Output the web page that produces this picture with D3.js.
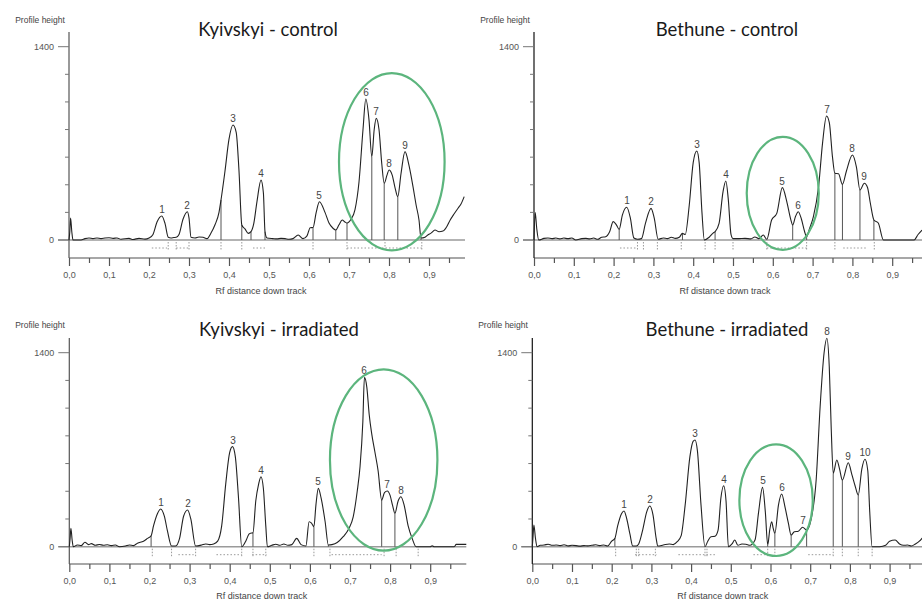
<!DOCTYPE html>
<html>
<head>
<meta charset="utf-8">
<script src="https://cdn.jsdelivr.net/npm/d3@7/dist/d3.min.js"></script>
<style>
  body { margin: 0; background: #fff; }
  svg { display: block; }
  .peaks { opacity: 0.99; }
</style>
</head>
<body>
<svg id="chart" width="922" height="601"></svg>
<script>
// ---- tick labels ----
var yTicks = [0, 200, 400, 600, 800, 1000, 1200, 1400];
var yTickLabels = ["0", "", "", "", "", "", "", "1400"];
var xMajor = [0, 0.1, 0.2, 0.3, 0.4, 0.5, 0.6, 0.7, 0.8, 0.9];
var xTickLabels = ["0,0", "0,1", "0,2", "0,3", "0,4", "0,5", "0,6", "0,7", "0,8", "0,9"];
var xMinor = [0.05, 0.15, 0.25, 0.35, 0.45, 0.55, 0.65, 0.75, 0.85, 0.95];

var titles = ["Kyivskyi - control", "Bethune - control", "Kyivskyi - irradiated", "Bethune - irradiated"];

// ---- profiles: [Rf, profile height] ----
var kyivControl = [[0,0],[0.002,60],[0.004,159],[0.007,60],[0.01,0],[0.03,0],[0.04,10],[0.05,15],[0.06,10],[0.07,15],[0.08,10],[0.09,14],[0.1,16],[0.11,12],[0.12,15],[0.13,5],[0.15,12],[0.16,4],[0.175,12],[0.19,6],[0.2,14],[0.21,40],[0.22,130],[0.232,174],[0.24,120],[0.248,20],[0.255,15],[0.262,18],[0.268,20],[0.275,40],[0.285,150],[0.296,205],[0.3,160],[0.305,20],[0.315,15],[0.325,22],[0.335,20],[0.345,10],[0.355,50],[0.365,110],[0.375,200],[0.38,290],[0.39,500],[0.4,730],[0.41,833],[0.418,780],[0.425,500],[0.432,109],[0.44,80],[0.448,48],[0.455,60],[0.462,120],[0.47,280],[0.48,434],[0.486,340],[0.49,60],[0.495,15],[0.51,10],[0.52,8],[0.53,12],[0.54,10],[0.55,5],[0.56,10],[0.573,36],[0.585,10],[0.595,30],[0.603,89],[0.61,90],[0.618,200],[0.626,277],[0.64,200],[0.65,123],[0.66,85],[0.667,72],[0.675,110],[0.683,145],[0.69,130],[0.695,123],[0.705,150],[0.715,220],[0.725,420],[0.735,800],[0.742,1021],[0.75,870],[0.757,603],[0.763,800],[0.768,881],[0.775,800],[0.782,550],[0.788,410],[0.795,470],[0.8,507],[0.808,470],[0.815,380],[0.822,314],[0.83,480],[0.84,640],[0.85,540],[0.86,386],[0.868,250],[0.875,145],[0.88,14],[0.89,20],[0.897,36],[0.905,50],[0.915,72],[0.925,60],[0.935,65],[0.945,100],[0.953,145],[0.963,190],[0.973,232],[0.98,260],[0.988,314]];

var bethuneControl = [[0,0],[0.003,198],[0.007,80],[0.012,0],[0.025,12],[0.035,15],[0.045,10],[0.055,14],[0.065,8],[0.075,14],[0.085,10],[0.095,14],[0.105,0],[0.12,10],[0.13,12],[0.14,8],[0.15,14],[0.16,5],[0.17,20],[0.18,24],[0.19,60],[0.199,133],[0.207,110],[0.214,77],[0.222,180],[0.233,237],[0.242,160],[0.251,14],[0.26,5],[0.27,10],[0.28,120],[0.294,229],[0.302,160],[0.312,5],[0.325,15],[0.335,10],[0.345,20],[0.355,12],[0.365,20],[0.373,48],[0.38,40],[0.39,250],[0.4,560],[0.409,645],[0.415,560],[0.422,200],[0.428,0],[0.44,20],[0.45,50],[0.455,60],[0.465,120],[0.475,350],[0.482,427],[0.488,300],[0.495,40],[0.5,10],[0.515,10],[0.53,12],[0.545,8],[0.555,22],[0.565,10],[0.576,36],[0.585,5],[0.597,145],[0.61,193],[0.624,379],[0.635,280],[0.645,150],[0.65,109],[0.657,170],[0.664,205],[0.672,150],[0.68,60],[0.685,24],[0.692,80],[0.702,169],[0.715,386],[0.725,702],[0.735,898],[0.742,850],[0.75,600],[0.756,483],[0.765,480],[0.775,403],[0.785,500],[0.8,616],[0.81,530],[0.819,362],[0.83,411],[0.838,380],[0.845,268],[0.854,145],[0.865,123],[0.878,0],[0.955,0],[0.965,40],[0.975,72]];

var kyivIrradiated = [[0,0],[0.002,60],[0.004,133],[0.007,50],[0.01,0],[0.02,12],[0.03,8],[0.039,32],[0.048,15],[0.055,22],[0.065,10],[0.075,16],[0.085,10],[0.095,14],[0.105,8],[0.115,12],[0.125,0],[0.14,5],[0.15,12],[0.16,8],[0.17,25],[0.185,40],[0.195,60],[0.204,79],[0.21,150],[0.22,240],[0.228,272],[0.237,220],[0.245,110],[0.255,5],[0.265,5],[0.275,60],[0.285,220],[0.295,265],[0.303,200],[0.315,5],[0.33,12],[0.34,20],[0.35,15],[0.36,20],[0.37,40],[0.38,150],[0.39,450],[0.4,680],[0.407,722],[0.414,650],[0.422,350],[0.43,0],[0.44,40],[0.448,90],[0.452,97],[0.458,100],[0.465,330],[0.472,450],[0.478,505],[0.484,420],[0.49,150],[0.494,0],[0.505,10],[0.515,18],[0.525,10],[0.535,20],[0.545,10],[0.555,15],[0.567,60],[0.578,15],[0.59,5],[0.598,180],[0.604,170],[0.61,144],[0.615,300],[0.621,421],[0.628,350],[0.638,180],[0.646,12],[0.655,15],[0.668,30],[0.683,72],[0.697,130],[0.708,216],[0.718,400],[0.725,577],[0.732,900],[0.736,1222],[0.742,1150],[0.748,950],[0.754,818],[0.762,685],[0.77,550],[0.779,337],[0.786,390],[0.793,402],[0.8,370],[0.806,300],[0.812,241],[0.82,330],[0.827,361],[0.835,300],[0.845,150],[0.855,60],[0.865,0],[0.9,0],[0.905,6],[0.91,0],[0.96,0],[0.965,17],[0.99,17]];

var bethuneIrradiated = [[0,0],[0.002,80],[0.004,157],[0.008,60],[0.012,0],[0.02,10],[0.03,12],[0.04,18],[0.05,10],[0.06,12],[0.07,8],[0.08,14],[0.09,6],[0.1,10],[0.11,8],[0.12,4],[0.13,8],[0.14,6],[0.15,10],[0.16,14],[0.17,8],[0.18,12],[0.19,5],[0.2,40],[0.208,60],[0.215,150],[0.225,240],[0.231,258],[0.238,200],[0.246,90],[0.253,5],[0.262,5],[0.268,20],[0.278,120],[0.288,250],[0.296,294],[0.304,230],[0.312,60],[0.316,5],[0.33,12],[0.345,20],[0.355,15],[0.365,36],[0.375,80],[0.385,300],[0.397,650],[0.405,760],[0.41,770],[0.416,690],[0.425,300],[0.435,0],[0.442,40],[0.45,72],[0.46,75],[0.468,120],[0.475,350],[0.482,440],[0.488,330],[0.494,0],[0.503,20],[0.51,48],[0.518,10],[0.528,20],[0.538,18],[0.548,10],[0.561,48],[0.57,250],[0.58,428],[0.587,250],[0.593,12],[0.598,120],[0.603,180],[0.607,130],[0.611,96],[0.62,300],[0.628,380],[0.637,280],[0.645,170],[0.652,84],[0.66,108],[0.67,112],[0.681,140],[0.691,120],[0.702,193],[0.715,481],[0.725,1010],[0.735,1400],[0.742,1504],[0.748,1300],[0.753,850],[0.758,530],[0.767,626],[0.774,560],[0.781,481],[0.796,606],[0.805,520],[0.813,440],[0.821,373],[0.83,560],[0.838,631],[0.845,550],[0.85,250],[0.856,0],[0.875,0],[0.89,10],[0.9,40],[0.914,48],[0.925,20],[0.935,10],[0.945,12],[0.955,5],[0.965,20],[0.975,40],[0.985,72]];

// ---- numbered peaks: [number, Rf, height] ----
var kyivControlPeaks = [[1,0.232,174],[2,0.296,205],[3,0.41,833],[4,0.48,434],[5,0.626,277],[6,0.742,1021],[7,0.768,881],[8,0.8,507],[9,0.84,640]];
var bethuneControlPeaks = [[1,0.233,237],[2,0.294,229],[3,0.409,645],[4,0.482,427],[5,0.624,379],[6,0.664,205],[7,0.735,898],[8,0.8,616],[9,0.83,411]];
var kyivIrradiatedPeaks = [[1,0.228,272],[2,0.295,265],[3,0.407,722],[4,0.478,505],[5,0.621,421],[6,0.736,1222],[7,0.793,402],[8,0.827,361]];
var bethuneIrradiatedPeaks = [[1,0.231,258],[2,0.296,294],[3,0.41,770],[4,0.482,440],[5,0.58,428],[6,0.628,380],[7,0.681,140],[8,0.742,1504],[9,0.796,606],[10,0.838,631]];

// ---- peak boundary drop lines (Rf) ----
var kyivControlDrops = [0.38, 0.432, 0.455, 0.49, 0.61, 0.667, 0.695, 0.757, 0.788, 0.822, 0.88];
var bethuneControlDrops = [0.214, 0.373, 0.455, 0.65, 0.685, 0.756, 0.775, 0.819, 0.854];
var kyivIrradiatedDrops = [0.204, 0.458, 0.61, 0.646, 0.779, 0.812];
var bethuneIrradiatedDrops = [0.208, 0.593, 0.611, 0.652, 0.691, 0.758, 0.781, 0.821];

// ---- dotted lane extents under the baseline: [from, to] ----
var kyivControlBands = [[0.207,0.245],[0.268,0.3],[0.46,0.49],[0.695,0.882]];
var bethuneControlBands = [[0.216,0.258],[0.585,0.685],[0.777,0.836]];
var kyivIrradiatedBands = [[0.272,0.31],[0.367,0.43],[0.456,0.492],[0.654,0.779]];
var bethuneIrradiatedBands = [[0.259,0.313],[0.368,0.465],[0.557,0.59],[0.695,0.758]];

var kyivControlMarks = [0.248, 0.268, 0.3, 0.38, 0.432, 0.61, 0.695, 0.79, 0.882];
var bethuneControlMarks = [0.26, 0.275, 0.31, 0.37, 0.43, 0.455, 0.5, 0.585, 0.685, 0.756, 0.855];
var kyivIrradiatedMarks = [0.207, 0.255, 0.315, 0.43, 0.458, 0.49, 0.61, 0.65, 0.785, 0.815, 0.87];
var bethuneIrradiatedMarks = [0.21, 0.262, 0.268, 0.31, 0.435, 0.44, 0.593, 0.611, 0.758, 0.781, 0.821, 0.856];

// ---- highlighted region (green ring): [Rf centre, height centre, Rf radius, height radius] ----
var kyivControlRing = [0.807, 567, 0.132, 642];
var bethuneControlRing = [0.625, 338, 0.0905, 409];
var kyivIrradiatedRing = [0.784, 626, 0.134, 654];
var bethuneIrradiatedRing = [0.614, 336, 0.0924, 403];

// layout of the four panels
var panels = [
  { title: titles[0], profile: kyivControl, peaks: kyivControlPeaks, drops: kyivControlDrops, bands: kyivControlBands, marks: kyivControlMarks, ring: kyivControlRing,
    x0: 69, x1: 469, y0: 240, y1: 46.7, top: 32, axisY: 258, xEnd: 0.99, titleX: 268, titleY: 36, labelX: 40, labelY: 23, rfY: 294 },
  { title: titles[1], profile: bethuneControl, peaks: bethuneControlPeaks, drops: bethuneControlDrops, bands: bethuneControlBands, marks: bethuneControlMarks, ring: bethuneControlRing,
    x0: 534, x1: 932, y0: 240, y1: 46.7, top: 32, axisY: 258, xEnd: 1.0, titleX: 727, titleY: 36, labelX: 505, labelY: 23, rfY: 294 },
  { title: titles[2], profile: kyivIrradiated, peaks: kyivIrradiatedPeaks, drops: kyivIrradiatedDrops, bands: kyivIrradiatedBands, marks: kyivIrradiatedMarks, ring: kyivIrradiatedRing,
    x0: 69.3, x1: 470.3, y0: 546.7, y1: 352.7, top: 338, axisY: 564, xEnd: 0.99, titleX: 279, titleY: 336, labelX: 40, labelY: 328, rfY: 599 },
  { title: titles[3], profile: bethuneIrradiated, peaks: bethuneIrradiatedPeaks, drops: bethuneIrradiatedDrops, bands: bethuneIrradiatedBands, marks: bethuneIrradiatedMarks, ring: bethuneIrradiatedRing,
    x0: 532.3, x1: 929.3, y0: 546.7, y1: 352.7, top: 338, axisY: 564, xEnd: 1.0, titleX: 727, titleY: 336, labelX: 503, labelY: 328, rfY: 599 }
];

var svg = d3.select("#chart");
svg.append("rect").attr("width", 922).attr("height", 601).attr("fill", "#fff");

panels.forEach(function (p, i) {
  var x = d3.scaleLinear().domain([0, 1]).range([p.x0, p.x1]);
  var y = d3.scaleLinear().domain([0, 1400]).range([p.y0, p.y1]);
  var g = svg.append("g").attr("class", "panel-" + i);

  // lookup of the profile height at an Rf
  var bis = d3.bisector(function (d) { return d[0]; }).left;
  function heightAt(rf) {
    var j = bis(p.profile, rf);
    if (j <= 0) return p.profile[0][1];
    if (j >= p.profile.length) return p.profile[p.profile.length - 1][1];
    var a = p.profile[j - 1], b = p.profile[j];
    return a[1] + (b[1] - a[1]) * (rf - a[0]) / (b[0] - a[0]);
  }

  // baseline (zero) and the x-axis line
  g.append("line")
    .attr("x1", x(0) - 11).attr("x2", x(p.xEnd))
    .attr("y1", y(0)).attr("y2", y(0))
    .attr("stroke", "#9a9a9a").attr("stroke-width", 1.6);

  g.append("line")
    .attr("x1", x(0)).attr("x2", x(p.xEnd))
    .attr("y1", p.axisY).attr("y2", p.axisY)
    .attr("stroke", "#8a8a8a").attr("stroke-width", 1.4);

  // x axis ticks
  var xAxisMajor = d3.axisBottom(x).tickValues(xMajor).tickSize(8).tickPadding(6)
    .tickFormat(function (d, k) { return xTickLabels[k]; });
  var xAxisMinor = d3.axisBottom(x).tickValues(xMinor).tickSize(5).tickFormat("");
  var xa = g.append("g").attr("transform", "translate(0," + p.axisY + ")").call(xAxisMajor);
  var xm = g.append("g").attr("transform", "translate(0," + p.axisY + ")").call(xAxisMinor);
  [xa, xm].forEach(function (a) {
    a.select(".domain").remove();
    a.selectAll(".tick line").attr("stroke", "#555").attr("stroke-width", 1.2);
  });
  xa.selectAll(".tick text")
    .attr("fill", "#555")
    .style("font-family", "'Liberation Sans', Arial, sans-serif")
    .style("font-size", "9px");

  // y axis
  g.append("line")
    .attr("x1", x(0)).attr("x2", x(0))
    .attr("y1", p.top).attr("y2", p.axisY)
    .attr("stroke", i % 2 ? "#111" : "#555").attr("stroke-width", 1.2);

  g.selectAll(".ytick").data(yTicks).enter().append("line")
    .attr("x1", function (d, k) { return yTickLabels[k] ? x(0) - 11 : x(0) - 4; })
    .attr("x2", x(0))
    .attr("y1", function (d) { return y(d); })
    .attr("y2", function (d) { return y(d); })
    .attr("stroke", "#777").attr("stroke-width", 1);

  g.selectAll(".ylab").data(yTicks).enter().append("text")
    .attr("x", x(0) - 15)
    .attr("y", function (d) { return y(d) + 3; })
    .attr("text-anchor", "end")
    .attr("fill", "#555")
    .style("font-family", "'Liberation Sans', Arial, sans-serif")
    .style("font-size", "9px")
    .text(function (d, k) { return yTickLabels[k]; });

  // dotted lane extents below the baseline
  g.selectAll(".band").data(p.bands).enter().append("line")
    .attr("x1", function (d) { return x(d[0]); })
    .attr("x2", function (d) { return x(d[1]); })
    .attr("y1", y(0) + 8).attr("y2", y(0) + 8)
    .attr("stroke", "#999").attr("stroke-width", 1)
    .attr("stroke-dasharray", "1.5,2");

  g.selectAll(".mark").data(p.marks).enter().append("line")
    .attr("x1", function (d) { return x(d); })
    .attr("x2", function (d) { return x(d); })
    .attr("y1", y(0) + 2).attr("y2", y(0) + 11)
    .attr("stroke", "#999").attr("stroke-width", 1)
    .attr("stroke-dasharray", "1.5,1.5");

  // drop lines at the peak boundaries
  g.selectAll(".drop").data(p.drops).enter().append("line")
    .attr("x1", function (d) { return x(d); })
    .attr("x2", function (d) { return x(d); })
    .attr("y1", function (d) { return y(heightAt(d)); })
    .attr("y2", y(0))
    .attr("stroke", "#555").attr("stroke-width", 1);

  // profile
  var line = d3.line()
    .x(function (d) { return x(d[0]); })
    .y(function (d) { return y(d[1]); })
    .curve(d3.curveMonotoneX);

  g.append("path")
    .datum(p.profile)
    .attr("d", line)
    .attr("fill", "none")
    .attr("stroke", "#222")
    .attr("stroke-width", 1.1);

  // peak numbers
  g.append("g").attr("class", "peaks")
    .selectAll("text").data(p.peaks).enter().append("text")
    .attr("x", function (d) { return Math.round(x(d[1])); })
    .attr("y", function (d) { return Math.round(y(d[2]) - 3); })
    .attr("text-anchor", "middle")
    .attr("fill", "#444")
    .style("font-family", "'Liberation Sans', Arial, sans-serif")
    .style("font-size", "10px")
    .text(function (d) { return d[0]; });

  // green ring
  var r = p.ring;
  g.append("ellipse")
    .attr("cx", x(r[0]))
    .attr("cy", y(r[1]))
    .attr("rx", x(r[0] + r[2]) - x(r[0]))
    .attr("ry", y(r[1]) - y(r[1] + r[3]))
    .attr("fill", "none")
    .attr("stroke", "#5cb57d")
    .attr("stroke-width", 2.2);

  // texts
  g.append("text")
    .attr("x", p.labelX).attr("y", p.labelY)
    .attr("text-anchor", "middle")
    .attr("fill", "#444")
    .style("font-family", "'Liberation Sans', Arial, sans-serif")
    .style("font-size", "8.5px")
    .text("Profile height");

  g.append("text")
    .attr("x", x(0.48)).attr("y", p.rfY)
    .attr("text-anchor", "middle")
    .attr("fill", "#444")
    .style("font-family", "'Liberation Sans', Arial, sans-serif")
    .style("font-size", "9px")
    .text("Rf distance down track");

  g.append("text")
    .attr("x", p.titleX).attr("y", p.titleY)
    .attr("text-anchor", "middle")
    .attr("fill", "#1a1a1a")
    .style("font-family", "Lato, 'Open Sans', sans-serif")
    .style("font-size", "18.5px")
    .text(p.title);
});
</script>
</body>
</html>
